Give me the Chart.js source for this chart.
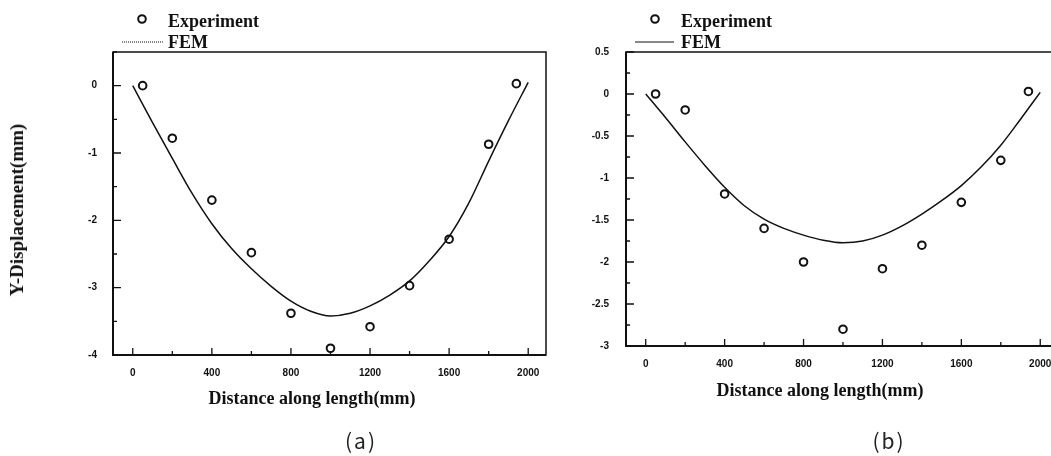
<!DOCTYPE html>
<html>
<head>
<meta charset="utf-8">
<script src="https://cdn.jsdelivr.net/npm/chart.js@4"></script>
<style>
  html, body { margin: 0; padding: 0; background: #fff; overflow: hidden; }
  body { width: 1051px; height: 456px; position: relative; }
  canvas { position: absolute; top: 0; }
  .t { position: absolute; font: bold 18px 'Liberation Serif', serif; color: #111; white-space: nowrap; transform: translate(-50%, -50%); }
  .cap { position: absolute; font: 21px 'Noto Sans CJK KR', sans-serif; letter-spacing: 2px; color: #222; transform: translate(-50%, -50%); }
</style>
</head>
<body>
<canvas id="chartA" width="560" height="456" style="left:0"></canvas>
<canvas id="chartB" width="560" height="456" style="left:520px"></canvas>
<div class="t" style="left:17px;top:210px;font-size:19px;transform:translate(-50%,-50%) rotate(-90deg)">Y-Displacement(mm)</div>
<div class="t" style="left:312px;top:398px">Distance along length(mm)</div>
<div class="t" style="left:820px;top:390px">Distance along length(mm)</div>
<div class="cap" style="left:361px;top:440px">(a)</div>
<div class="cap" style="left:889px;top:440px">(b)</div>
<script>
// measured points
const expX = [50, 200, 400, 600, 800, 1000, 1200, 1400, 1600, 1800, 1940];
const expA = [0, -0.78, -1.7, -2.48, -3.38, -3.9, -3.58, -2.97, -2.28, -0.87, 0.03];
const expB = [0, -0.19, -1.19, -1.6, -2.0, -2.8, -2.08, -1.8, -1.29, -0.79, 0.03];

// FEM curves
const femX = [0, 100, 200, 300, 400, 500, 600, 700, 800, 900, 1000, 1100, 1200, 1300, 1400, 1500, 1600, 1700, 1800, 1900, 2000];
const femA = [0, -0.55, -1.08, -1.6, -2.05, -2.42, -2.72, -2.98, -3.2, -3.35, -3.42, -3.38, -3.27, -3.11, -2.9, -2.6, -2.24, -1.74, -1.12, -0.52, 0.05];
const femB = [0, -0.28, -0.57, -0.85, -1.11, -1.33, -1.49, -1.6, -1.68, -1.74, -1.77, -1.75, -1.68, -1.57, -1.43, -1.27, -1.09, -0.87, -0.61, -0.3, 0.02];

const xTicks = [0, 200, 400, 600, 800, 1000, 1200, 1400, 1600, 1800, 2000];
const xTickLabels = [0, 400, 800, 1200, 1600, 2000];
const yTickLabelsA = [0, -1, -2, -3, -4];
const yTickLabelsB = [0.5, 0, -0.5, -1, -1.5, -2, -2.5, -3];

const ink = '#111';
const tickFont = { family: 'Liberation Sans', size: 10, weight: 'bold' };

function pairs(xs, ys) {
  return xs.map((x, i) => ({ x: x, y: ys[i] }));
}

// box round the plot and the little inward ticks
const frame = {
  id: 'frame',
  afterDatasetsDraw(chart, args, o) {
    const ctx = chart.ctx;
    const a = chart.chartArea;
    ctx.save();
    ctx.strokeStyle = ink;
    ctx.lineWidth = 1.5;
    ctx.strokeRect(a.left, a.top, a.right - a.left, a.bottom - a.top);
    ctx.lineWidth = 2;
    ctx.beginPath();
    ctx.moveTo(a.left, a.top); ctx.lineTo(a.left, a.bottom); ctx.lineTo(a.right, a.bottom);
    ctx.stroke();
    ctx.lineWidth = 1.3;
    const xs = chart.scales.x, ys = chart.scales.y;
    ctx.beginPath();
    xs.ticks.forEach(t => {
      const p = xs.getPixelForValue(t.value);
      const len = xTickLabels.includes(t.value) ? 7 : 4;
      ctx.moveTo(p, a.bottom); ctx.lineTo(p, a.bottom - len);
    });
    ys.ticks.forEach(t => {
      const p = ys.getPixelForValue(t.value);
      const len = o.yLabels.includes(t.value) ? 8 : 4;
      ctx.moveTo(a.left, p); ctx.lineTo(a.left + len, p);
    });
    ctx.stroke();
    ctx.restore();
  }
};

// two-row key above the plot
const keyBox = {
  id: 'keyBox',
  afterDraw(chart, args, o) {
    const ctx = chart.ctx;
    const exp = chart.data.datasets[0], fem = chart.data.datasets[1];
    ctx.save();
    ctx.font = 'bold 18px "Liberation Serif"';
    ctx.fillStyle = ink;
    ctx.fillText(exp.label, o.textX, 27);
    ctx.fillText(fem.label, o.textX, 48);
    ctx.strokeStyle = exp.borderColor;
    ctx.lineWidth = 2;
    ctx.beginPath();
    ctx.arc(o.markX, 19, 3.8, 0, Math.PI * 2);
    ctx.stroke();
    ctx.strokeStyle = fem.borderColor;
    ctx.lineWidth = 1;
    ctx.setLineDash(o.dash);
    ctx.beginPath();
    ctx.moveTo(o.lineX0, 42); ctx.lineTo(o.lineX1, 42);
    ctx.stroke();
    ctx.restore();
  }
};

function makeChart(id, expY, femY, yMin, yStep, yLabels, yWidth, xHeight, padRight, yPad, key) {
  return new Chart(document.getElementById(id), {
    type: 'scatter',
    data: {
      datasets: [{
        label: 'Experiment',
        data: pairs(expX, expY),
        pointStyle: 'circle',
        pointRadius: 3.8,
        borderWidth: 2,
        borderColor: ink,
        backgroundColor: 'rgba(0,0,0,0)'
      }, {
        label: 'FEM',
        data: pairs(femX, femY),
        showLine: true,
        pointRadius: 0,
        borderWidth: 1.5,
        borderColor: ink,
        cubicInterpolationMode: 'monotone'
      }]
    },
    options: {
      responsive: false,
      animation: false,
      devicePixelRatio: 1,
      layout: { padding: { top: 52, right: padRight, left: 0, bottom: 0 } },
      plugins: {
        legend: { display: false },
        tooltip: { enabled: false },
        frame: { yLabels: yLabels },
        keyBox: key
      },
      scales: {
        x: {
          type: 'linear',
          min: -100,
          max: 2090,
          grid: { display: false, drawTicks: false },
          border: { display: false },
          afterFit(s) { s.height = xHeight; },
          afterBuildTicks(s) { s.ticks = xTicks.map(v => ({ value: v })); },
          ticks: {
            autoSkip: false,
            maxRotation: 0,
            padding: 12,
            color: ink,
            font: tickFont,
            callback: v => xTickLabels.includes(v) ? String(v) : ''
          }
        },
        y: {
          type: 'linear',
          min: yMin,
          max: 0.5,
          grid: { display: false, drawTicks: false },
          border: { display: false },
          afterFit(s) { s.width = yWidth; },
          ticks: {
            stepSize: yStep,
            autoSkip: false,
            padding: yPad,
            color: ink,
            font: tickFont,
            callback: v => yLabels.includes(v) ? String(v) : ''
          }
        }
      }
    },
    plugins: [frame, keyBox]
  });
}

makeChart('chartA', expA, femA, -4, 0.5, yTickLabelsA, 113, 101, 14, 16,
  { markX: 142, textX: 168, lineX0: 122, lineX1: 163, dash: [1, 1] });
makeChart('chartB', expB, femB, -3, 0.25, yTickLabelsB, 106, 110, 22, 17,
  { markX: 135, textX: 161, lineX0: 115, lineX1: 154, dash: [] });
</script>
</body>
</html>
